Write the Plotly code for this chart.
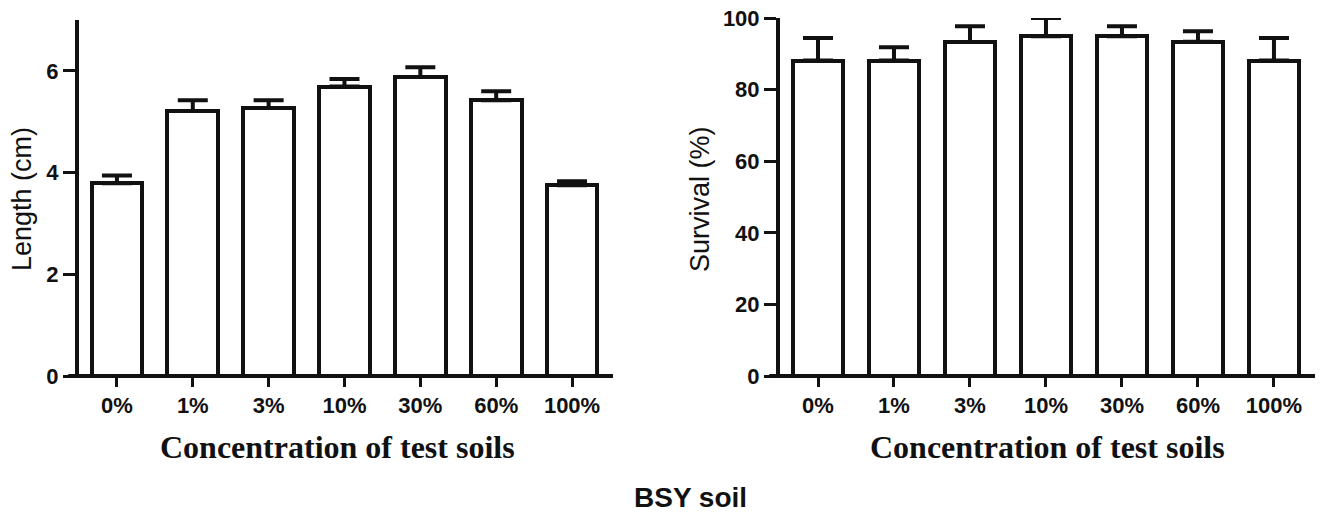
import plotly.graph_objects as go

categories = ["0%", "1%", "3%", "10%", "30%", "60%", "100%"]
length_cm = [3.79, 5.21, 5.27, 5.69, 5.88, 5.42, 3.75]
length_err = [0.15, 0.21, 0.15, 0.15, 0.19, 0.18, 0.08]
survival = [88.1, 88.1, 93.3, 94.9, 94.9, 93.4, 88.1]
survival_err = [6.3, 3.7, 4.4, 5.1, 2.8, 2.9, 6.3]

length_ticks = [0, 2, 4, 6]
survival_ticks = [0, 20, 40, 60, 80, 100]

# the page body margin is removed by the post script, so page pixels == figure pixels
W, H = 1321, 519
INK = "#111111"
SANS = "Liberation Sans, Arial, sans-serif"
SERIF = "Liberation Serif, Times New Roman, serif"


def px(xp):
    return xp / W


def py(yp):
    return (H - yp) / H


xpos = list(range(len(categories)))


def bar_trace(vals, errs, xa, ya):
    return go.Bar(
        x=xpos, y=vals, xaxis=xa, yaxis=ya, width=0.67,
        marker=dict(color="white", line=dict(color=INK, width=4)),
        error_y=dict(type="data", array=errs, arrayminus=[0] * len(errs),
                     symmetric=False, color=INK, thickness=4, width=15),
        cliponaxis=False, showlegend=False, hoverinfo="skip",
    )


fig = go.Figure()
fig.add_trace(bar_trace(length_cm, length_err, "x", "y"))
fig.add_trace(bar_trace(survival, survival_err, "x2", "y2"))


def xaxis(dom, anchor):
    return dict(
        domain=dom, anchor=anchor, range=[-0.5, 6.54],
        tickmode="array", tickvals=xpos, ticktext=categories,
        showline=False, ticks="outside", ticklen=10, tickwidth=3, tickcolor=INK,
        tickfont=dict(family=SANS, size=22, color=INK, weight="bold"),
        ticklabeloverflow="allow",
        showgrid=False, zeroline=False, fixedrange=True,
    )


def yaxis(top, anchor, rng, tv):
    return dict(
        domain=[py(376), top], anchor=anchor, range=rng,
        tickmode="array", tickvals=tv,
        showline=True, linewidth=4, linecolor=INK,
        ticks="outside", ticklen=12, tickwidth=3, tickcolor=INK,
        tickfont=dict(family=SANS, size=22, color=INK, weight="bold"),
        ticklabeloverflow="allow",
        showgrid=False, zeroline=False, fixedrange=True,
    )


fig.update_layout(
    width=W, height=H,
    margin=dict(l=0, r=0, t=0, b=0, autoexpand=False),
    paper_bgcolor="white", plot_bgcolor="white",
    bargap=0,
    xaxis=xaxis([px(79), px(613)], "y"),
    yaxis=yaxis(py(20), "x", [0, 7], length_ticks),
    xaxis2=xaxis([px(780), px(1315)], "y2"),
    yaxis2=yaxis(py(18), "x2", [0, 100], survival_ticks),
)

# x-axis baselines (extend slightly left of the y axis, as in the original)
for xr, yr in (("x domain", "y domain"), ("x2 domain", "y2 domain")):
    fig.add_shape(type="line", xref=xr, yref=yr, x0=-0.02, x1=1, y0=0, y1=0,
                  line=dict(color=INK, width=4), layer="above")

ann = []
ann.append(dict(text="Length (cm)", x=px(22), y=py(199), textangle=-90,
                font=dict(family=SANS, size=27, color=INK)))
ann.append(dict(text="Survival (%)", x=px(700), y=py(199), textangle=-90,
                font=dict(family=SANS, size=27, color=INK)))
ann.append(dict(text="Concentration of test soils", x=px(337), y=py(447),
                font=dict(family=SERIF, size=32, color=INK, weight="bold")))
ann.append(dict(text="Concentration of test soils", x=px(1047), y=py(447),
                font=dict(family=SERIF, size=32, color=INK, weight="bold")))
ann.append(dict(text="BSY soil", x=px(690), y=py(497),
                font=dict(family=SANS, size=28, color=INK, weight="bold")))
for a in ann:
    a.update(xref="paper", yref="paper", xanchor="center", yanchor="middle",
             showarrow=False)
fig.update_layout(annotations=ann)

fig.write_html("out.html",
               config={"displayModeBar": False},
               post_script="document.body.style.margin='0px';")
